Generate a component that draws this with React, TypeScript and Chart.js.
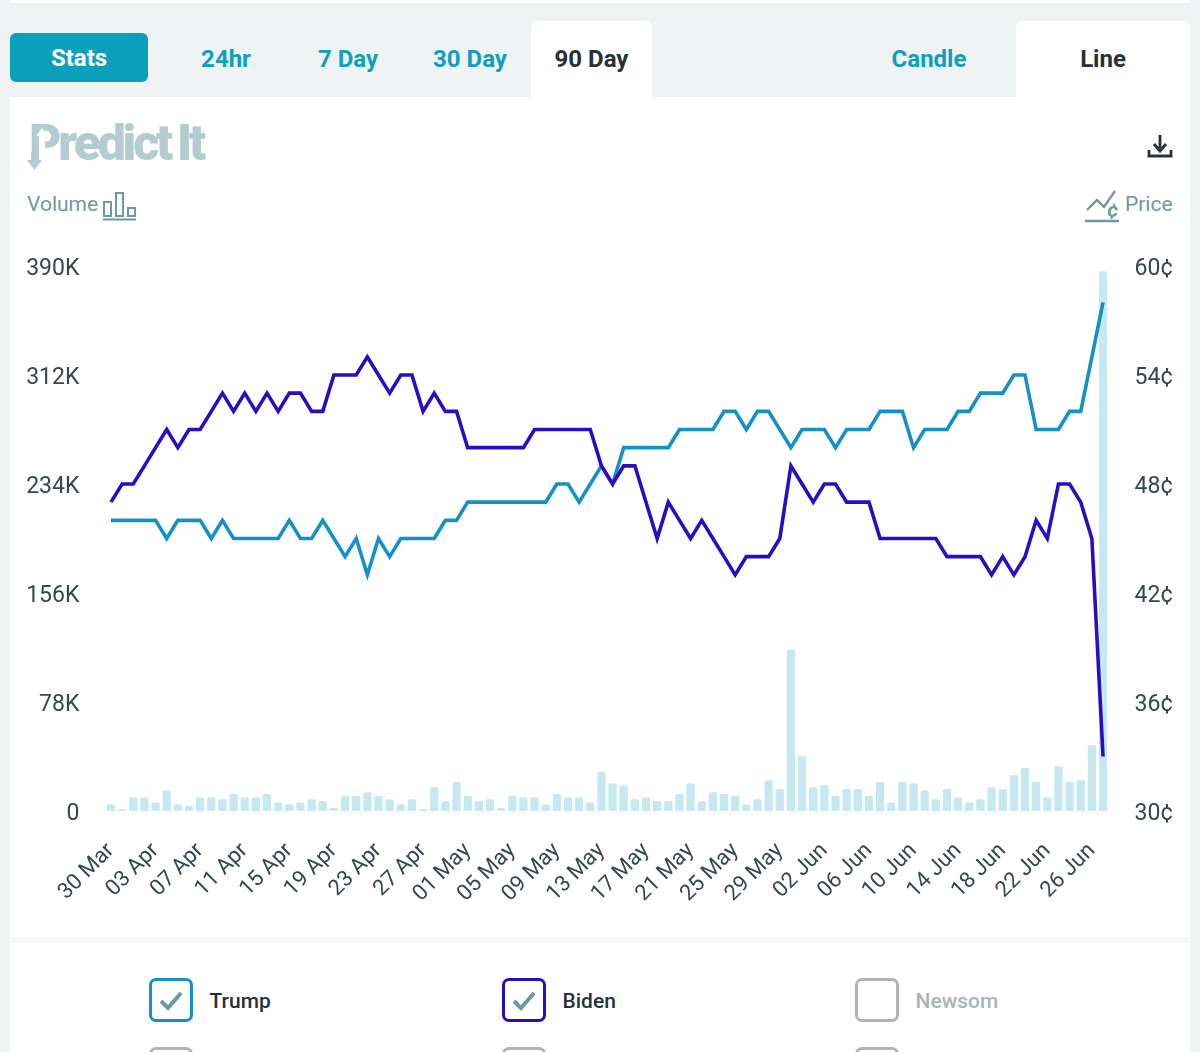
import { Chart, registerables } from "chart.js"
import { useEffect, useRef } from "react"

const dates = [
  "30 Mar", "31 Mar", "01 Apr", "02 Apr", "03 Apr", "04 Apr", "05 Apr", "06 Apr", "07 Apr", "08 Apr",
  "09 Apr", "10 Apr", "11 Apr", "12 Apr", "13 Apr", "14 Apr", "15 Apr", "16 Apr", "17 Apr", "18 Apr",
  "19 Apr", "20 Apr", "21 Apr", "22 Apr", "23 Apr", "24 Apr", "25 Apr", "26 Apr", "27 Apr", "28 Apr",
  "29 Apr", "30 Apr", "01 May", "02 May", "03 May", "04 May", "05 May", "06 May", "07 May", "08 May",
  "09 May", "10 May", "11 May", "12 May", "13 May", "14 May", "15 May", "16 May", "17 May", "18 May",
  "19 May", "20 May", "21 May", "22 May", "23 May", "24 May", "25 May", "26 May", "27 May", "28 May",
  "29 May", "30 May", "31 May", "01 Jun", "02 Jun", "03 Jun", "04 Jun", "05 Jun", "06 Jun", "07 Jun",
  "08 Jun", "09 Jun", "10 Jun", "11 Jun", "12 Jun", "13 Jun", "14 Jun", "15 Jun", "16 Jun", "17 Jun",
  "18 Jun", "19 Jun", "20 Jun", "21 Jun", "22 Jun", "23 Jun", "24 Jun", "25 Jun", "26 Jun", "27 Jun",
]

// cents
const biden = [
  47, 48, 48, 49, 50, 51, 50, 51, 51, 52,
  53, 52, 53, 52, 53, 52, 53, 53, 52, 52,
  54, 54, 54, 55, 54, 53, 54, 54, 52, 53,
  52, 52, 50, 50, 50, 50, 50, 50, 51, 51,
  51, 51, 51, 51, 49, 48, 49, 49, 47, 45,
  47, 46, 45, 46, 45, 44, 43, 44, 44, 44,
  45, 49, 48, 47, 48, 48, 47, 47, 47, 45,
  45, 45, 45, 45, 45, 44, 44, 44, 44, 43,
  44, 43, 44, 46, 45, 48, 48, 47, 45, 33,
]

const trump = [
  46, 46, 46, 46, 46, 45, 46, 46, 46, 45,
  46, 45, 45, 45, 45, 45, 46, 45, 45, 46,
  45, 44, 45, 43, 45, 44, 45, 45, 45, 45,
  46, 46, 47, 47, 47, 47, 47, 47, 47, 47,
  48, 48, 47, 48, 49, 48, 50, 50, 50, 50,
  50, 51, 51, 51, 51, 52, 52, 51, 52, 52,
  51, 50, 51, 51, 51, 50, 51, 51, 51, 52,
  52, 52, 50, 51, 51, 51, 52, 52, 53, 53,
  53, 54, 54, 51, 51, 51, 52, 52, 55, 58,
]

// thousands of shares
const volume = [
  4.8, 1.2, 9.6, 9.6, 6, 14.6, 4.8, 3.6, 9.6, 9.6,
  8.4, 12.2, 9.6, 9.6, 12.2, 6, 4.8, 6, 8.4, 7.2,
  2.2, 10.8, 10.8, 13.4, 10.8, 8.4, 4.8, 8.4, 1.2, 17,
  7.2, 20.8, 10.8, 7.2, 8.4, 2.2, 10.8, 9.6, 9.6, 4.8,
  12.2, 9.6, 9.6, 6, 28.2, 19.6, 18.2, 8.4, 9.6, 7.2,
  7.2, 12.2, 19.6, 7.2, 13.4, 12.2, 10.8, 4.8, 8.4, 22,
  15.8, 115.4, 39.4, 17, 18.4, 11, 15.8, 15.8, 11, 20.8,
  6, 20.8, 19.6, 14.6, 8.4, 15.8, 9.6, 6, 8.4, 17,
  15.8, 25.8, 30.8, 20.8, 9.6, 32, 20.8, 22, 47, 386,
]

const TRUMP_COLOR = "#1690c8"
const BIDEN_COLOR = "#2a0cc4"
const TICK_COLOR = "#37474d"
const ICON_COLOR = "#6b9aa0"
const TEAL = "#0ca0bf"
const LOGO_COLOR = "#b3ccd2"

const abs = (left: number, top: number, width?: number, height?: number) => ({
  position: "absolute" as const, left, top, width, height,
})

const Tab = ({ x, w, label, active }: { x: number, w: number, label: string, active?: boolean }) => (
  <div style={{
    ...abs(x, 21, w, 76),
    background: active ? "#fff" : "transparent",
    borderRadius: "6px 6px 0 0",
    color: active ? "#263238" : TEAL,
    font: "700 24px Roboto",
    lineHeight: "76px",
    textAlign: "center",
  }}>{label}</div>
)

const Box = ({ x, y, color, label, checked, labelColor }: {
  x: number, y: number, color: string, label?: string, checked?: boolean, labelColor?: string
}) => (
  <>
    <div style={{ ...abs(x, y, 44, 44), boxSizing: "border-box", border: `3px solid ${color}`, borderRadius: 7 }}>
      {checked && (
        <svg width="38" height="38" style={{ display: "block" }}>
          <path d="M 9 20 L 16 27 L 29 12" fill="none" stroke={ICON_COLOR} strokeWidth="4" />
        </svg>
      )}
    </div>
    {label && <div style={{ ...abs(x + 60.5, y + 11), font: "500 21px Roboto", color: labelColor, whiteSpace: "nowrap" }}>{label}</div>}
  </>
)

const App = () => {
  const chartRef = useRef<HTMLCanvasElement>(null)

  useEffect(() => {
    if (!chartRef.current) return
    Chart.register(...registerables)
    const tickFont = { family: "Roboto", size: 23 }
    const c = new Chart(chartRef.current, {
      type: "bar",
      data: {
        labels: dates,
        datasets: [
          {
            type: "line",
            label: "Biden",
            data: biden,
            yAxisID: "price",
            borderColor: BIDEN_COLOR,
            borderWidth: 3.6,
            pointRadius: 0,
            tension: 0,
            order: 1,
          },
          {
            type: "line",
            label: "Trump",
            data: trump,
            yAxisID: "price",
            borderColor: TRUMP_COLOR,
            borderWidth: 3.6,
            pointRadius: 0,
            tension: 0,
            order: 2,
          },
          {
            type: "bar",
            label: "Volume",
            data: volume,
            yAxisID: "vol",
            backgroundColor: "#c6e8f1",
            barPercentage: 0.74,
            categoryPercentage: 1,
            borderRadius: 1.5,
            order: 3,
          },
        ],
      },
      options: {
        responsive: false,
        animation: false,
        layout: { padding: { top: 26 } },
        plugins: { legend: { display: false }, tooltip: { enabled: false } },
        scales: {
          x: {
            grid: { display: false, drawTicks: false },
            border: { display: false },
            afterFit: (s: any) => { s.height = 129 },
            ticks: {
              autoSkip: false,
              minRotation: 45,
              maxRotation: 45,
              padding: 27,
              color: TICK_COLOR,
              font: { family: "Roboto", size: 22 },
              callback: (_v: any, i: number) => (i % 4 === 0 ? dates[i] : ""),
            },
          },
          vol: {
            position: "left",
            min: 0,
            max: 390,
            grid: { display: false, drawTicks: false },
            border: { display: false },
            afterFit: (s: any) => { s.width = 105.4; s.paddingTop = 0; s.paddingBottom = 0 },
            ticks: {
              stepSize: 78,
              padding: 26,
              labelOffset: 3,
              color: TICK_COLOR,
              font: tickFont,
              callback: (v: any) => (v === 0 ? "0" : `${v}K`),
            },
          },
          price: {
            position: "right",
            min: 30,
            max: 60,
            grid: { display: false, drawTicks: false },
            border: { display: false },
            afterFit: (s: any) => { s.width = 91.4; s.paddingTop = 0; s.paddingBottom = 0 },
            ticks: {
              stepSize: 6,
              padding: 26,
              labelOffset: 3,
              color: TICK_COLOR,
              font: tickFont,
              callback: (v: any) => `${v}¢`,
            },
          },
        },
      },
    })
    return () => {
      c.destroy()
    }
  }, [])

  return (
    <div style={{ ...abs(0, 0, 1200, 1052), background: "#eff3f4", overflow: "hidden", fontFamily: "Roboto" }}>
      <div style={{ ...abs(10, 0, 1180, 3), background: "#fff" }} />
      <div style={{ ...abs(10, 97, 1180, 955), background: "#fff" }} />

      <div style={{
        ...abs(10, 33, 138, 49), background: TEAL, borderRadius: 6, color: "#fff",
        font: "700 24px Roboto", lineHeight: "51px", textAlign: "center",
      }}>Stats</div>
      <Tab x={165} w={122} label="24hr" />
      <Tab x={287} w={122} label="7 Day" />
      <Tab x={409} w={122} label="30 Day" />
      <Tab x={531} w={121} label="90 Day" active />
      <Tab x={842} w={174} label="Candle" />
      <Tab x={1016} w={174} label="Line" active />

      <div style={{
        ...abs(29, 114), font: "900 50px Roboto", letterSpacing: -3.2, color: LOGO_COLOR, whiteSpace: "nowrap",
      }}>Predict<span style={{ marginLeft: 7 }}>It</span></div>
      <svg style={abs(26, 122, 26, 50)} width="26" height="50">
        <path d="M 16 6 L 10 14 L 13 14 L 13 40 L 19 40 L 19 14 L 22 14 Z" fill="#fff" />
        <path d="M 5 30 L 5 38 L 1 38 L 8.5 48 L 16 38 L 12 38 L 12 30 Z" fill={LOGO_COLOR} />
      </svg>

      <svg style={abs(1146, 133, 28, 28)} width="28" height="28">
        <path d="M 14 2 L 14 15 M 8 11 L 14 18 L 20 11 M 3 17 L 3 23 L 25 23 L 25 17" fill="none" stroke="#263238" strokeWidth="2.8" />
      </svg>

      <div style={{ ...abs(27, 192), font: "400 21px Roboto", color: "#6b9aa0" }}>Volume</div>
      <svg style={abs(102, 190, 36, 32)} width="36" height="32">
        <path d="M 2 12 h 7 v 14 h -7 Z M 14 3 h 7 v 23 h -7 Z M 26 18 h 7 v 8 h -7 Z M 1 29.5 H 34" fill="none" stroke={ICON_COLOR} strokeWidth="2" />
      </svg>

      <svg style={abs(1084, 188, 38, 36)} width="38" height="36">
        <path d="M 3 22 L 13 12 L 20 19 L 31 3 M 1 33 H 35" fill="none" stroke={ICON_COLOR} strokeWidth="2.4" />
        <text x="23" y="29" fontFamily="Roboto" fontWeight="700" fontSize="21" fill={ICON_COLOR} fontStyle="italic">¢</text>
      </svg>
      <div style={{ ...abs(1125, 192), font: "400 21px Roboto", color: "#6b9aa0" }}>Price</div>

      <canvas ref={chartRef} width={1200} height={700} style={{ ...abs(0, 240, 1200, 700), display: "block" }} />

      <div style={{ ...abs(10, 937, 1180, 6), background: "#f6f8fa" }} />

      <Box x={149} y={978} color={TRUMP_COLOR} label="Trump" checked labelColor="#263238" />
      <Box x={502} y={978} color={BIDEN_COLOR} label="Biden" checked labelColor="#263238" />
      <Box x={855} y={978} color="#b2b4ae" label="Newsom" labelColor="#a9b3b6" />
      <Box x={149} y={1047} color="#b2b4ae" />
      <Box x={502} y={1047} color="#b2b4ae" />
      <Box x={855} y={1047} color="#b2b4ae" />
    </div>
  )
}

export default App
